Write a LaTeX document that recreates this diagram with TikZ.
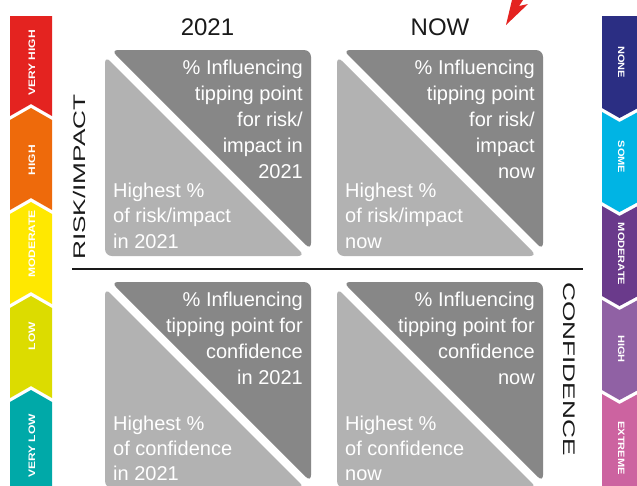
\documentclass[tikz,border=0pt]{standalone}
\usepackage{fontspec}
\setmainfont{Liberation Sans}
\usepackage{graphicx}
\definecolor{gdark}{RGB}{135,135,135}
\definecolor{glight}{RGB}{178,178,178}
\definecolor{cred}{HTML}{E42320}
\definecolor{corange}{HTML}{EE6A0B}
\definecolor{cyellow}{HTML}{FFE800}
\definecolor{clime}{HTML}{DCDC00}
\definecolor{cteal}{HTML}{00A9A8}
\definecolor{cnavy}{HTML}{2B2E83}
\definecolor{ccyan}{HTML}{00B4E4}
\definecolor{cpurple}{HTML}{6A3A8B}
\definecolor{clpurple}{HTML}{9061A4}
\definecolor{cpink}{HTML}{CC63A0}
\definecolor{ink}{HTML}{1A1A1A}
\newcommand\tippanel[2]{%
  \fill[gdark, rounded corners=7pt] ({#1+106},{#2+100}) -- ({#1+6},{#2}) -- ({#1+206},{#2}) -- ({#1+206},{#2+200}) -- cycle;
  \fill[glight, rounded corners=7pt] ({#1+100},{#2+106}) -- ({#1+200},{#2+206}) -- ({#1},{#2+206}) -- ({#1},{#2+6}) -- cycle;
}
\begin{document}
\begin{tikzpicture}[x=1pt,y=-1pt,
  dtxt/.style={text=white, font=\fontsize{20}{24}\selectfont, inner sep=0pt, anchor=base east},
  ltxt/.style={text=white, font=\fontsize{20}{24}\selectfont, inner sep=0pt, anchor=base west},
  head/.style={text=ink, font=\fontsize{24}{28}\selectfont, inner sep=0pt, anchor=base},
  axis/.style={text=ink, font=\fontsize{16.8}{20}\selectfont, inner sep=0pt, anchor=base},
  lbar/.style={text=white, font=\bfseries\fontsize{9.4}{11}\selectfont, inner sep=0pt, anchor=base, rotate=90},
  rbar/.style={text=white, font=\bfseries\fontsize{9.2}{11}\selectfont, inner sep=0pt, anchor=base, rotate=-90}]
\useasboundingbox (0,0) rectangle (637,485);
\clip (0,0) rectangle (637,485);
\fill[white] (0,0) rectangle (637,485);

% left scale bar (chevrons pointing up)
\fill[cred] (10,16) -- (52,16) -- (52,116) -- (31,104) -- (10,116) -- cycle;
\fill[corange] (10,120) -- (31,108) -- (52,120) -- (52,210) -- (31,198) -- (10,210) -- cycle;
\fill[cyellow] (10,214) -- (31,202) -- (52,214) -- (52,304) -- (31,292) -- (10,304) -- cycle;
\fill[clime] (10,308) -- (31,296) -- (52,308) -- (52,398) -- (31,386) -- (10,398) -- cycle;
\fill[cteal] (10,402) -- (31,390) -- (52,402) -- (52,486) -- (10,486) -- cycle;
\node[lbar] (vhigh) at (35,63) {\scalebox{1.28}[1]{VERY HIGH}};
\node[lbar] (high) at (35,160) {\scalebox{1.28}[1]{HIGH}};
\node[lbar] (mod) at (35,244) {\scalebox{1.28}[1]{MODERATE}};
\node[lbar] (low) at (35,336) {\scalebox{1.28}[1]{LOW}};
\node[lbar] (vlow) at (35,446) {\scalebox{1.28}[1]{VERY LOW}};

% right scale bar (chevrons pointing down)
\fill[cnavy] (602,16) -- (638,16) -- (638,108) -- (619.5,118) -- (602,108) -- cycle;
\fill[ccyan] (602,112) -- (619.5,122) -- (638,112) -- (638,202) -- (619.5,212) -- (602,202) -- cycle;
\fill[cpurple] (602,206) -- (619.5,216) -- (638,206) -- (638,296) -- (619.5,306) -- (602,296) -- cycle;
\fill[clpurple] (602,300) -- (619.5,310) -- (638,300) -- (638,390) -- (619.5,400) -- (602,390) -- cycle;
\fill[cpink] (602,394) -- (619.5,404) -- (638,394) -- (638,486) -- (602,486) -- cycle;
\node[rbar] (none) at (618,62) {\scalebox{1.2}[1]{NONE}};
\node[rbar] (some) at (618,157) {\scalebox{1.2}[1]{SOME}};
\node[rbar] (rmod) at (618,254) {\scalebox{1.2}[1]{MODERATE}};
\node[rbar] (rhigh) at (618,349) {\scalebox{1.2}[1]{HIGH}};
\node[rbar] (extreme) at (618,448) {\scalebox{1.2}[1]{EXTREME}};

% red arrow fragment
\fill[cred] (512,0) -- (523,0) -- (519,6) -- (528,4) -- (506,25) -- cycle;

% headers and axes
\node[head] (h2021) at (207.5,35) {2021};
\node[head] (hnow) at (440,35) {NOW};
\node[axis, rotate=90] (risk) at (85,177) {\scalebox{1.56}[1]{RISK/IMPACT}};
\node[axis, rotate=-90] (conf) at (563,369) {\scalebox{1.56}[1]{CONFIDENCE}};
\coordinate (sepL) at (72,269);
\coordinate (sepR) at (583,269);
\draw[ink, line width=2.5pt] (sepL) -- (sepR);

% panels
\tippanel{105}{50}
\tippanel{337}{50}
\tippanel{105}{282}
\tippanel{337}{282}

% texts: top-left
\foreach \t [count=\i] in {\% Influencing, tipping point, for risk/, impact in, 2021}
  \node[dtxt] (tld\i) at (303,{74+26*(\i-1)}) {\t};
\foreach \t [count=\i] in {Highest \%, of risk/impact, in 2021}
  \node[ltxt] (tll\i) at (113,{197+25.5*(\i-1)}) {\t};
% top-right
\foreach \t [count=\i] in {\% Influencing, tipping point, for risk/, impact, now}
  \node[dtxt] (trd\i) at (535,{74+26*(\i-1)}) {\t};
\foreach \t [count=\i] in {Highest \%, of risk/impact, now}
  \node[ltxt] (trl\i) at (345,{197+25.5*(\i-1)}) {\t};
% bottom-left
\foreach \t [count=\i] in {\% Influencing, tipping point for, confidence, in 2021}
  \node[dtxt] (bld\i) at (303,{306.5+26*(\i-1)}) {\t};
\foreach \t [count=\i] in {Highest \%, of confidence, in 2021}
  \node[ltxt] (bll\i) at (113,{430+25*(\i-1)}) {\t};
% bottom-right
\foreach \t [count=\i] in {\% Influencing, tipping point for, confidence, now}
  \node[dtxt] (brd\i) at (535,{306.5+26*(\i-1)}) {\t};
\foreach \t [count=\i] in {Highest \%, of confidence, now}
  \node[ltxt] (brl\i) at (345,{430+25*(\i-1)}) {\t};
\end{tikzpicture}
\end{document}
